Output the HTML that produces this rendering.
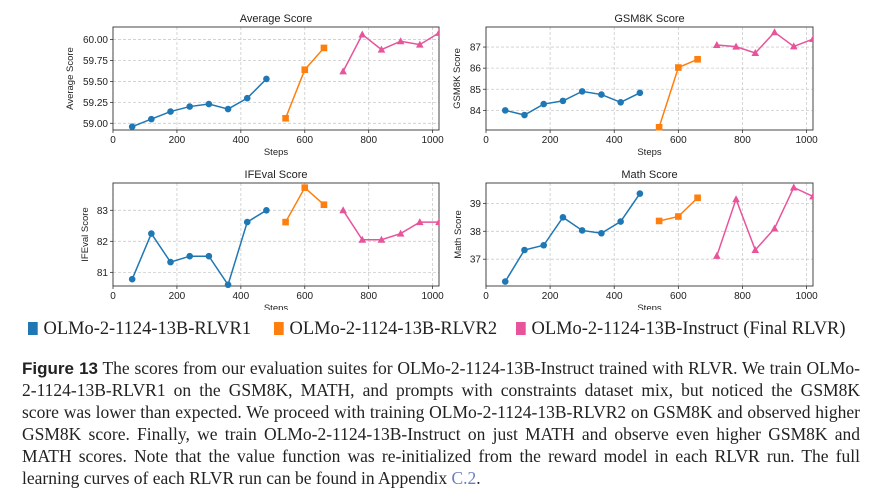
<!DOCTYPE html>
<html><head><meta charset="utf-8"><style>
body{margin:0;background:#fff;width:882px;height:478px;overflow:hidden;position:relative;font-family:"Liberation Sans",sans-serif}
svg{position:absolute;left:0;top:0}
.cap{position:absolute;left:22px;width:838px;font-family:"Liberation Serif",serif;font-size:17.5px;color:#222;white-space:nowrap;text-align:justify;text-align-last:justify;line-height:22px}
.cap.last{text-align-last:left}
.leg{position:absolute;top:318px;font-family:"Liberation Serif",serif;font-size:19px;color:#222;white-space:nowrap;transform-origin:left center}
.sq{display:inline-block;width:10px;height:13px;margin-right:6px;vertical-align:-1px}
</style></head><body>
<svg id="chart" width="882" height="310" xmlns="http://www.w3.org/2000/svg"></svg>
<div class="leg" style="left:28px;transform:scaleX(0.97)"><span class="sq" style="background:#1f77b4"></span>OLMo-2-1124-13B-RLVR1</div>
<div class="leg" style="left:274px;transform:scaleX(0.97)"><span class="sq" style="background:#ff7f0e"></span>OLMo-2-1124-13B-RLVR2</div>
<div class="leg" style="left:516px;transform:scaleX(0.97)"><span class="sq" style="background:#e7549b"></span>OLMo-2-1124-13B-Instruct (Final RLVR)</div>
<div>
<div class="cap" style="top:357px"><b style="font-family:'Liberation Sans',sans-serif;font-size:17px">Figure 13</b> The scores from our evaluation suites for OLMo-2-1124-13B-Instruct trained with RLVR. We train OLMo-</div>
<div class="cap" style="top:379px">2-1124-13B-RLVR1 on the GSM8K, MATH, and prompts with constraints dataset mix, but noticed the GSM8K</div>
<div class="cap" style="top:401px">score was lower than expected. We proceed with training OLMo-2-1124-13B-RLVR2 on GSM8K and observed higher</div>
<div class="cap" style="top:423px">GSM8K score. Finally, we train OLMo-2-1124-13B-Instruct on just MATH and observe even higher GSM8K and</div>
<div class="cap" style="top:445px">MATH scores. Note that the value function was re-initialized from the reward model in each RLVR run. The full</div>
<div class="cap last" style="top:467px">learning curves of each RLVR run can be found in Appendix <span style="color:#6a7fc0">C.2</span>.</div>
</div>
<script>
const stepsBlue=[60,120,180,240,300,360,420,480];
const stepsOrange=[540,600,660];
const stepsPink=[720,780,840,900,960,1020];
const xTicks=[0,200,400,600,800,1000];
const avgBlue=[58.96,59.05,59.14,59.20,59.23,59.17,59.30,59.53];
const avgOrange=[59.06,59.64,59.90];
const avgPink=[59.62,60.06,59.88,59.98,59.94,60.08];
const avgTicks=["59.00","59.25","59.50","59.75","60.00"];
const gsmBlue=[84.0,83.78,84.3,84.45,84.9,84.75,84.38,84.83];
const gsmOrange=[83.2,86.03,86.42];
const gsmPink=[87.1,87.02,86.72,87.7,87.03,87.38];
const gsmTicks=["84","85","86","87"];
const ifBlue=[80.78,82.25,81.33,81.52,81.52,80.6,82.62,83.0];
const ifOrange=[82.62,83.73,83.18];
const ifPink=[83.0,82.05,82.05,82.25,82.62,82.62];
const ifTicks=["81","82","83"];
const mathBlue=[36.2,37.33,37.5,38.5,38.03,37.93,38.35,39.35];
const mathOrange=[38.37,38.53,39.2];
const mathPink=[37.12,39.15,37.33,38.1,39.57,39.25];
const mathTicks=["37","38","39"];

const NS="http://www.w3.org/2000/svg";
const svg=document.getElementById('chart');
function mk(t,a,p){const e=document.createElementNS(NS,t);for(const k in a)e.setAttribute(k,a[k]);(p||svg).appendChild(e);return e;}
const panels=[
 {name:'average',title:'Average Score',yl:'Average Score',x0:113,x1:439,y0:27,y1:130,ymin:58.92,ymax:60.15,ticks:avgTicks,b:avgBlue,o:avgOrange,p:avgPink,off:40},
 {name:'gsm8k',title:'GSM8K Score',yl:'GSM8K Score',x0:486,x1:813,y0:27,y1:130,ymin:83.07,ymax:87.95,ticks:gsmTicks,b:gsmBlue,o:gsmOrange,p:gsmPink,off:26},
 {name:'ifeval',title:'IFEval Score',yl:'IFEval Score',x0:113,x1:439,y0:183,y1:286,ymin:80.56,ymax:83.88,ticks:ifTicks,b:ifBlue,o:ifOrange,p:ifPink,off:25},
 {name:'math',title:'Math Score',yl:'Math Score',x0:486,x1:813,y0:183,y1:286,ymin:36.04,ymax:39.73,ticks:mathTicks,b:mathBlue,o:mathOrange,p:mathPink,off:25}
];
panels.forEach(P=>{
 const g=mk('g',{});
 
 
 const xs=v=>P.x0+(v/1020)*(P.x1-P.x0);
 const ys=v=>P.y1-(v-P.ymin)/(P.ymax-P.ymin)*(P.y1-P.y0);
 xTicks.forEach(t=>{const x=xs(t);
  mk('line',{x1:x,x2:x,y1:P.y0,y2:P.y1,stroke:'#ccc','stroke-dasharray':'3,2','stroke-width':0.8},g);
  mk('line',{x1:x,x2:x,y1:P.y1,y2:P.y1+3,stroke:'#333','stroke-width':0.8},g);
  const tx=mk('text',{x:x,y:P.y1+13,'font-size':10,'text-anchor':'middle',fill:'#222'},g);tx.textContent=t;
  
  
 });
 P.ticks.forEach(t=>{const y=ys(parseFloat(t));
  mk('line',{x1:P.x0,x2:P.x1,y1:y,y2:y,stroke:'#ccc','stroke-dasharray':'3,2','stroke-width':0.8},g);
  mk('line',{x1:P.x0-3,x2:P.x0,y1:y,y2:y,stroke:'#333','stroke-width':0.8},g);
  const tx=mk('text',{x:P.x0-5,y:y+3.5,'font-size':10,'text-anchor':'end',fill:'#222'},g);tx.textContent=t;
  
  
 });
 mk('rect',{x:P.x0,y:P.y0,width:P.x1-P.x0,height:P.y1-P.y0,fill:'none',stroke:'#333','stroke-width':0.9},g);
 const t=mk('text',{x:(P.x0+P.x1)/2,y:P.y0-5,'font-size':11,'text-anchor':'middle',fill:'#222'},g);t.textContent=P.title;
 
 
 const xl=mk('text',{x:(P.x0+P.x1)/2,y:P.y1+25,'font-size':9.5,'text-anchor':'middle',fill:'#222'},g);xl.textContent='Steps';
 
 
 const yx=P.x0-P.off, yy=(P.y0+P.y1)/2;
 const yl=mk('text',{x:yx,y:yy,'font-size':9.5,'text-anchor':'middle',fill:'#222',transform:`rotate(-90 ${yx} ${yy})`},g);yl.textContent=P.yl;
 
 
 const clip='c'+P.name;
 const cp=mk('clipPath',{id:clip},g);mk('rect',{x:P.x0-1,y:P.y0-6,width:P.x1-P.x0+1,height:P.y1-P.y0+12},cp);
 const sg=mk('g',{'clip-path':`url(#${clip})`},g);
 [[stepsBlue,P.b,'#1f77b4','circle','rlvr1'],[stepsOrange,P.o,'#ff7f0e','square','rlvr2'],[stepsPink,P.p,'#e7549b','tri','instruct']].forEach(([sx,sv,c,m,n])=>{
  const pts=sx.map((s,i)=>[xs(s),ys(sv[i])]);
  const pl=mk('polyline',{points:pts.map(p=>p.join(',')).join(' '),fill:'none',stroke:c,'stroke-width':1.5},sg);
  
  
  pts.forEach(([x,y])=>{let e;
   if(m==='circle')e=mk('circle',{cx:x,cy:y,r:3.3,fill:c},sg);
   else if(m==='square')e=mk('rect',{x:x-3.3,y:y-3.3,width:6.6,height:6.6,fill:c},sg);
   else e=mk('polygon',{points:`${x},${y-4} ${x-3.8},${y+3} ${x+3.8},${y+3}`,fill:c},sg);
   
   
  });
 });
});
</script>
</body></html>
